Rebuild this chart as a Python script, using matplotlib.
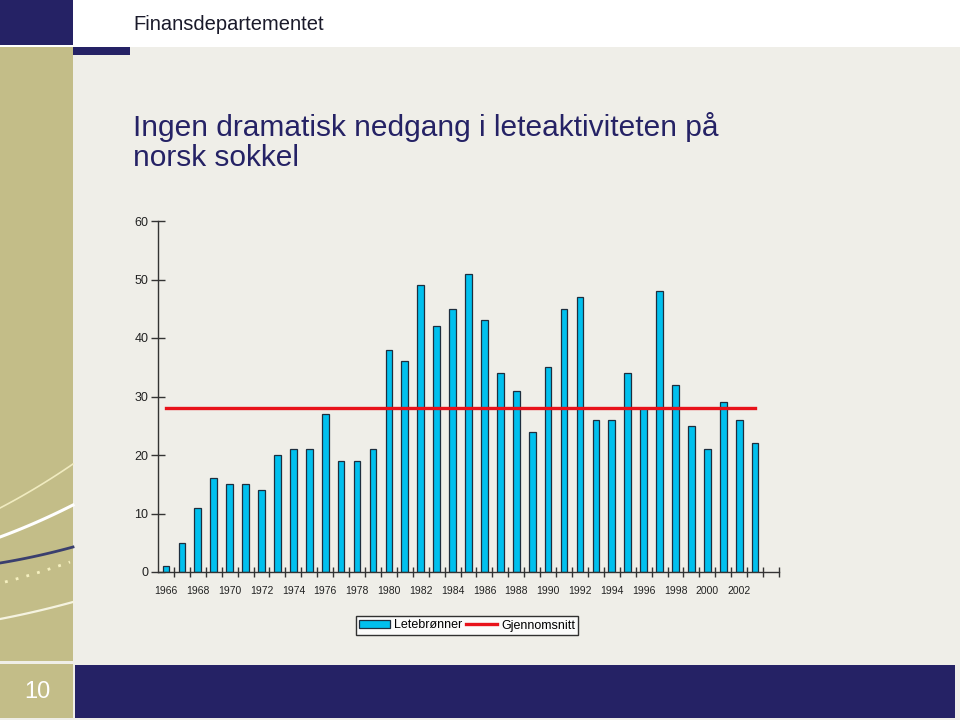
import matplotlib
matplotlib.use("Agg")
import matplotlib.pyplot as plt
from matplotlib.patches import Rectangle
from matplotlib.lines import Line2D
import numpy as np

years = list(range(1966, 2004))
wells = [1, 5, 11, 16, 15, 15, 14, 20, 21, 21, 27, 19, 19, 21, 38, 36, 49, 42, 45, 51,
         43, 34, 31, 24, 35, 45, 47, 26, 26, 34, 28, 48, 32, 25, 21, 29, 26, 22]
average = 28
tick_labels = [str(y) for y in range(1966, 2003, 2)]
yticks = [0, 10, 20, 30, 40, 50, 60]

W, H = 960, 720
BG = "#EFEEE8"
OLIVE = "#C3BD88"
NAVY = "#252265"
fig = plt.figure(figsize=(W / 100, H / 100), dpi=100)
fig.patch.set_facecolor("white")
plt.rcParams['font.family'] = ['Liberation Sans', 'DejaVu Sans']


def rect(x0, y0, x1, y1, color, z=-1):
    fig.patches.append(Rectangle((x0 / W, 1 - y1 / H), (x1 - x0) / W, (y1 - y0) / H,
                                 transform=fig.transFigure, facecolor=color,
                                 edgecolor="none", zorder=z))


# background panels
rect(0, 47, W, H, BG, -3)
rect(0, 0, 73, 45, NAVY)
rect(0, 47, 73, 661, OLIVE)
rect(73, 47, 130, 55, NAVY)
rect(0, 664, 73, 718, OLIVE)
rect(75, 665, 955, 718, NAVY)


def curve(x0, y0, x1, y1, sag, **kw):
    t = np.linspace(0, 1, 40)
    xs = x0 + (x1 - x0) * t
    ys = y0 + (y1 - y0) * t + sag * t * (1 - t)
    fig.lines.append(Line2D(xs / W, 1 - ys / H, transform=fig.transFigure, zorder=-0.5, **kw))


curve(0, 508, 73, 464, 6, color="#F0EBC0", lw=1.2)
curve(0, 537, 73, 505, 5, color="white", lw=2.2)
curve(0, 563, 73, 547, 4, color="#3A3F6E", lw=2.0)
curve(5, 582, 70, 562, 3, color="#F5F0C0", lw=2.0, ls=(0, (1, 3)))
curve(0, 619, 73, 602, 3, color="#F5F3E0", lw=1.6)

fig.text(133 / W, 1 - 24 / H, "Finansdepartementet", fontsize=14.5, color="#1a1a2a",
         va="center", ha="left")
fig.text(133 / W, 1 - 127 / H, "Ingen dramatisk nedgang i leteaktiviteten på",
         fontsize=21.5, color=NAVY, va="center", ha="left")
fig.text(133 / W, 1 - 158 / H, "norsk sokkel",
         fontsize=21.5, color=NAVY, va="center", ha="left")
fig.text(37 / W, 1 - 692 / H, "10", fontsize=17, color="white", va="center", ha="center")

# chart axes
ax_l, ax_r, ax_t, ax_b = 158, 779, 221, 572
ax = fig.add_axes([ax_l / W, 1 - ax_b / H, (ax_r - ax_l) / W, (ax_b - ax_t) / H])
ax.set_zorder(1)
ax.set_facecolor("none")
x = np.arange(len(years))
bars = ax.bar(x, wells, width=0.42, color="#00C0EE", edgecolor="#1E2E3E", linewidth=0.9,
              zorder=2, label="Letebrønner")
line, = ax.plot([x[0], x[-1]], [average, average], color="#E8121A", lw=2.4, zorder=3,
                label="Gjennomsnitt")
ax.set_xlim(-0.5, len(years) + 0.5)
ax.set_ylim(0, 60)
for s in ["top", "right"]:
    ax.spines[s].set_visible(False)
for s in ["left", "bottom"]:
    ax.spines[s].set_color("#333333")
    ax.spines[s].set_linewidth(1.0)
ax.set_yticks(yticks)
ax.tick_params(axis="y", direction="inout", length=10, width=1.0, color="#333333",
               labelsize=9, pad=2, labelcolor="#222222")
ax.set_xticks(np.arange(0.5, len(years) + 1.5, 1.0))
ax.set_xticklabels([])
ax.tick_params(axis="x", direction="inout", length=7, width=1.0, color="#333333")
ax.set_xticks(x[::2], minor=True)
ax.set_xticklabels(tick_labels, minor=True, fontsize=7.5, color="#222222")
ax.tick_params(axis="x", which="minor", length=0, pad=10)

leg = fig.legend(handles=[bars, line], loc="center",
                 bbox_to_anchor=(467 / W, 1 - 625.5 / H), ncol=2, fontsize=9,
                 frameon=True, fancybox=False, edgecolor="black", facecolor="white",
                 handlelength=2.5, handletextpad=0.3, columnspacing=0.3,
                 borderpad=0.25, handleheight=0.6)
leg.get_frame().set_linewidth(1.0)

fig.savefig("out.png", dpi=100, facecolor=fig.get_facecolor())
